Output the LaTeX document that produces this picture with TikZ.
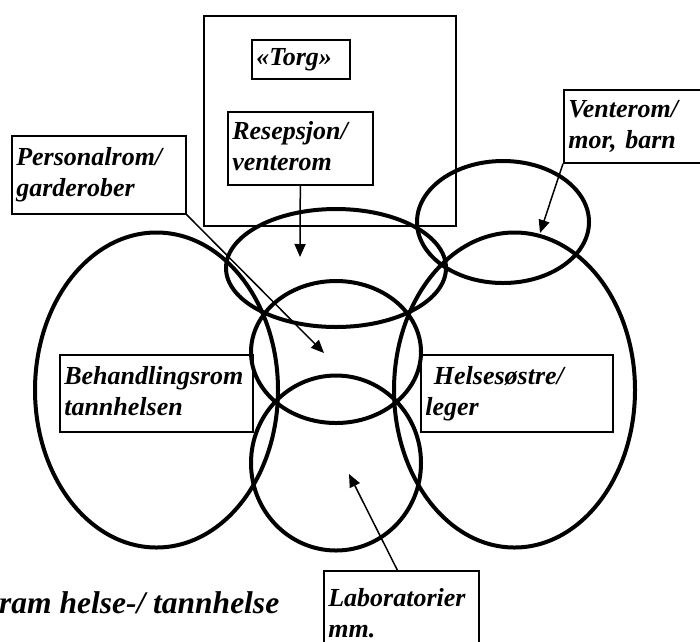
\documentclass[tikz,border=0pt]{standalone}
\usepackage{fontspec}
\setmainfont{Liberation Serif}
\usetikzlibrary{arrows.meta}
\tikzset{
  lbl/.style={draw, line width=1.6pt, anchor=north west, align=left,
    inner xsep=4.5pt, inner ysep=0pt,
    font=\fontsize{26}{31}\selectfont\bfseries\itshape},
  frame/.style={draw, line width=1.6pt, anchor=north west, inner sep=0pt},
  zone/.style={line width=4pt},
  ptr/.style={line width=1.5pt, -{Triangle[length=13pt,width=11pt]}},
}
\begin{document}
\begin{tikzpicture}[x=1pt,y=-1pt]
\useasboundingbox (0,0) rectangle (700,641);
\clip (0,0) rectangle (700,641);
% outer "Torg" area
\node[frame, minimum width=252pt, minimum height=210pt] (square) at (203,15) {};
% zones
\draw[zone] (156.5,390) ellipse [x radius=121.5pt, y radius=157.5pt];
\draw[zone] (514.5,390) ellipse [x radius=120.5pt, y radius=157.5pt];
\draw[zone] (336,268) ellipse [x radius=110pt, y radius=59pt];
\draw[zone] (336,352) ellipse [x radius=85pt, y radius=71pt];
\draw[zone] (336,463) ellipse [x radius=85pt, y radius=87.5pt];
\draw[zone] (503,222) ellipse [x radius=86pt, y radius=61pt];
% labels
\node[lbl, text width=89pt, minimum height=39pt] (torg) at (251,39) {\strut«Torg»};
\node[lbl, text width=136pt, minimum height=73pt] (resep) at (227,111) {\strut Resepsjon/\\\strut venterom};
\node[lbl, text width=165pt, minimum height=78pt] (person) at (11,135) {\strut Personalrom/\\\strut garderober};
\node[lbl, text width=150pt, minimum height=73pt] (venter) at (563,89) {\strut Venterom/\\\strut mor, barn};
\node[lbl, text width=184pt, minimum height=77pt] (behand) at (59,354) {\strut Behandlingsrom\\\strut tannhelsen};
\node[lbl, text width=183pt, minimum height=77pt] (helse) at (420,354) {\strut\ Helsesøstre/\\\strut leger};
\node[lbl, text width=146pt, minimum height=90pt] (lab) at (323,570) {\strut Laboratorier\\\strut mm.};
\node[anchor=base west, inner sep=0pt, font=\fontsize{31.5}{36}\selectfont\bfseries\itshape] (title) at (-1,613) {ram helse-/ tannhelse};
% arrow targets
\coordinate (tResep) at (300,257);
\coordinate (tPerson) at (324,353);
\coordinate (tVenter) at (540,233);
\coordinate (tLab) at (349,474);
% arrows
\draw[ptr] (resep.south) -- (tResep);
\draw[ptr] (person.south east) -- (tPerson);
\draw[ptr] (venter.south west) -- (tVenter);
\draw[ptr] ([xshift=-4pt]lab.north) -- (tLab);
\end{tikzpicture}
\end{document}
